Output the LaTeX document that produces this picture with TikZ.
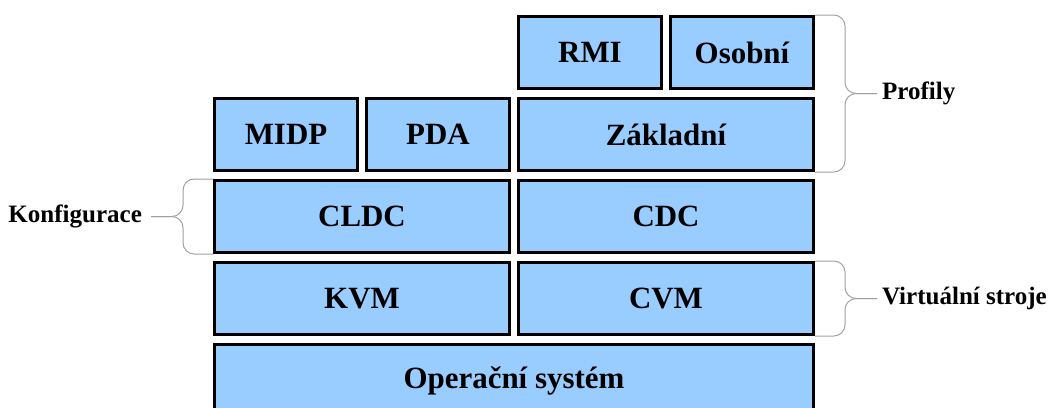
\documentclass[tikz,border=0pt]{standalone}
\usepackage{fontspec}
\setmainfont{Liberation Serif}
\usetikzlibrary{positioning}
\usetikzlibrary{calc}
\definecolor{layerblue}{HTML}{99CCFF}
\definecolor{bracegray}{HTML}{A0A0A0}

\begin{document}
\begin{tikzpicture}[font=\bfseries,
	layer/.style={draw=black,fill=layerblue,line width=0.075cm,minimum height=1.8cm,inner sep=0pt,font=\fontsize{22}{26}\selectfont\bfseries},
	quarter/.style={layer,minimum width=3.575cm},
	half/.style={layer,minimum width=7.375cm},
	brace/.style={draw=bracegray,line width=0.025cm,rounded corners=0.28cm},
	group/.style={inner sep=0.12cm,font=\fontsize{17.8}{21}\selectfont\bfseries}]
	\useasboundingbox (0,0) rectangle (26.375,-10.175);
	\clip (0,0) rectangle (26.375,-10.175);

	\node [layer,minimum width=14.975cm,anchor=north west] at (5.325,-8.575) (os) {Operační systém};

	\node [half,above=0.175cm of os.north west,anchor=south west] (kvm) {KVM};
	\node [half,right=0.15cm of kvm] (cvm) {CVM};

	\node [half,above=0.175cm of kvm] (cldc) {CLDC};
	\node [half,above=0.175cm of cvm] (cdc) {CDC};

	\node [quarter,above=0.175cm of cldc.north west,anchor=south west] (midp) {MIDP};
	\node [quarter,right=0.15cm of midp] (pda) {PDA};
	\node [half,above=0.175cm of cdc] (zakladni) {Základní};

	\node [quarter,above=0.175cm of zakladni.north west,anchor=south west] (rmi) {RMI};
	\node [quarter,right=0.15cm of rmi] (osobni) {Osobní};

	\coordinate (pr_mid) at ($(osobni.north east)!.5!(zakladni.south east)$);
	\node [group,right=1.55cm of pr_mid] (profily) {Profily};
	\node [group,left=1.55cm of cldc.west,inner xsep=0.22cm] (konf) {Konfigurace};
	\node [group,right=1.55cm of cvm.east] (vm) {Virtuální stroje};

	\draw [brace] (osobni.north east) -- ++(0.75,0) |- (profily.west);
	\draw [brace] (zakladni.south east) -- ++(0.75,0) |- (profily.west);

	\draw [brace] (cldc.north west) -- ++(-0.75,0) |- (konf.east);
	\draw [brace] (cldc.south west) -- ++(-0.75,0) |- (konf.east);

	\draw [brace] (cvm.north east) -- ++(0.75,0) |- (vm.west);
	\draw [brace] (cvm.south east) -- ++(0.75,0) |- (vm.west);
\end{tikzpicture}
\end{document}
